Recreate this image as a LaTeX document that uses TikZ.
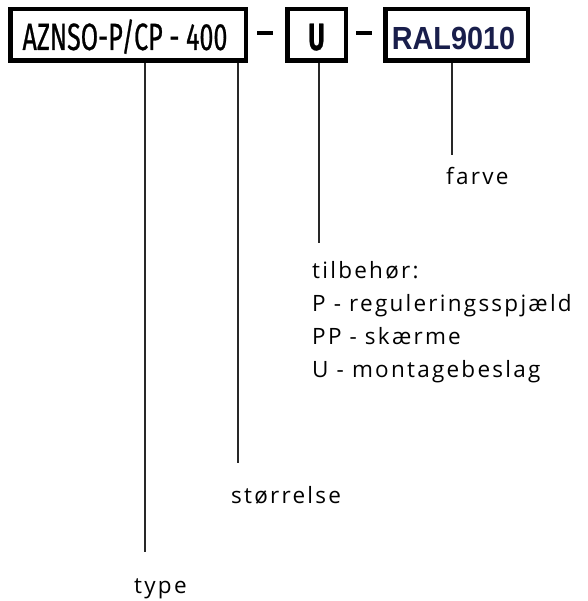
\documentclass[tikz,border=0pt]{standalone}
\usepackage{fontspec}
\newfontfamily\codefont{Fira Sans}[FakeStretch=0.66,FakeBold=0.6]
\newfontfamily\ralfont{Liberation Sans}[FakeStretch=0.9]
\newfontfamily\labfont{Open Sans}[LetterSpace=10]
\definecolor{ralblue}{RGB}{25,30,75}
\definecolor{linegray}{RGB}{40,40,40}
\begin{document}
\begin{tikzpicture}[x=1pt,y=-1pt,
  codebox/.style={draw=black, line width=4.5pt, inner sep=0pt, minimum height=51.5pt, text height=30pt, text depth=0pt},
  codetext/.style={font=\codefont\fontsize{38pt}{38pt}\selectfont},
  raltext/.style={font=\ralfont\bfseries\fontsize{32pt}{32pt}\selectfont, text=ralblue},
  dashbar/.style={fill=black, inner sep=0pt, minimum width=16pt, minimum height=4pt},
  connector/.style={draw=linegray, line width=2pt},
  lab/.style={anchor=base west, inner sep=0pt, font=\labfont\fontsize{22.5pt}{22.5pt}\selectfont, text=black}]
\useasboundingbox (0,0) rectangle (587,601);
\fill[white] (0,0) rectangle (587,601);
% boxes
\node[codebox, codetext, minimum width=235.5pt] (b1) at (128,35) {\hspace*{-6pt}AZNSO-P/CP - 400};
\node[codebox, codetext, minimum width=58.5pt, font=\codefont\bfseries\fontsize{38pt}{38pt}\selectfont] (b2) at (316.5,35) {U};
\node[codebox, raltext, minimum width=142.5pt] (b3) at (456.5,35) {\hspace*{-6pt}RAL9010};
\node[dashbar] (d1) at (265,33) {};
\node[dashbar] (d2) at (363.5,33) {};
% labels
\node[lab] (farve) at (446,185) {farve};
\node[lab] (tilb) at (312,278) {tilbehør:};
\node[lab] (tp) at (312,311) {P - reguleringsspjæld};
\node[lab] (tpp) at (312,344) {PP - skærme};
\node[lab] (tu) at (312,377) {U - montagebeslag};
\node[lab] (stor) at (231,503) {størrelse};
\node[lab] (type) at (134,593) {type};
% connector ends
\coordinate (eType) at (145,552);
\coordinate (eStor) at (237.5,463);
\coordinate (eU) at (319,243);
\coordinate (eRal) at (452,155);
\draw[connector] (b1.south -| eType) -- (eType);
\draw[connector] (b1.south -| eStor) -- (eStor);
\draw[connector] (b2.south -| eU) -- (eU);
\draw[connector] (b3.south -| eRal) -- (eRal);
\end{tikzpicture}
\end{document}
